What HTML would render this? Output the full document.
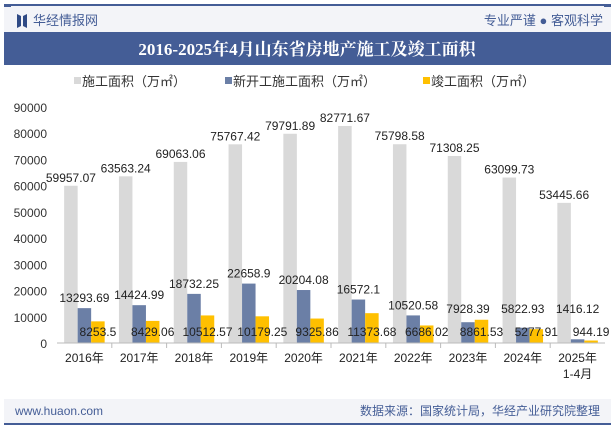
<!DOCTYPE html>
<html><head><meta charset="utf-8"><style>
body{margin:0;width:615px;height:427px;overflow:hidden;background:#fff;font-family:"Liberation Sans","Noto Sans CJK SC",sans-serif;}
</style></head><body>
<svg width="615" height="427" xmlns="http://www.w3.org/2000/svg">
<rect x="4" y="5" width="607" height="32" fill="#f3f4f8"/>
<line x1="4" y1="5" x2="611" y2="5" stroke="#445d96" stroke-width="2"/>
<rect x="4" y="4" width="7" height="3" fill="#445d96"/><rect x="604" y="4" width="7" height="3" fill="#445d96"/>
<path d="M17 14 L21 16 L21 26 L17 28 Z M27 14 L23 16 L23 26 L27 28 Z" fill="#2f4a85"/>
<text x="33" y="25" font-size="13" fill="#445d96">华经情报网</text>
<text x="603" y="25" font-size="13" fill="#445d96" text-anchor="end">专业严谨 ● 客观科学</text>
<rect x="4" y="32" width="607" height="33" fill="#445d96"/>
<text x="307" y="55" font-size="17" font-weight="bold" fill="#fff" text-anchor="middle" font-family="'Liberation Serif','Noto Serif CJK SC',serif">2016-2025年4月山东省房地产施工及竣工面积</text>
<g font-size="13" fill="#333">
<rect x="74" y="77" width="7" height="7" fill="#d9d9d9"/><text x="82" y="86">施工面积（万㎡）</text>
<rect x="225" y="77" width="7" height="7" fill="#6b7fa6"/><text x="233" y="86">新开工施工面积（万㎡）</text>
<rect x="423" y="77" width="7" height="7" fill="#ffc000"/><text x="431" y="86">竣工面积（万㎡）</text>
</g>
<g id="yaxis"></g>
<g id="bars"></g>
<g id="labels"></g>
<line x1="57" y1="343" x2="605" y2="343" stroke="#bbb"/>
<g id="xaxis"></g>
<rect x="4" y="399" width="607" height="25" fill="#f3f4f8"/>
<line x1="4" y1="424" x2="611" y2="424" stroke="#445d96" stroke-width="2"/>
<text x="15" y="415" font-size="12" fill="#445d96">www.huaon.com</text>
<text x="600" y="415" font-size="12" fill="#445d96" text-anchor="end">数据来源：国家统计局，华经产业研究院整理</text>
</svg>
<script>
const categories=["2016年","2017年","2018年","2019年","2020年","2021年","2022年","2023年","2024年","2025年"];
const construction=[59957.07,63563.24,69063.06,75767.42,79791.89,82771.67,75798.58,71308.25,63099.73,53445.66];
const newStart=[13293.69,14424.99,18732.25,22658.9,20204.08,16572.1,10520.58,7928.39,5822.93,1416.12];
const completed=[8253.5,8429.06,10512.57,10179.25,9325.86,11373.68,6686.02,8861.53,5277.91,944.19];
const constructionLabels=["59957.07","63563.24","69063.06","75767.42","79791.89","82771.67","75798.58","71308.25","63099.73","53445.66"];
const newLabels=["13293.69","14424.99","18732.25","22658.9","20204.08","16572.1","10520.58","7928.39","5822.93","1416.12"];
const completedLabels=["8253.5","8429.06","10512.57","10179.25","9325.86","11373.68","6686.02","8861.53","5277.91","944.19"];
const yTicks=[0,10000,20000,30000,40000,50000,60000,70000,80000,90000];
const NS="http://www.w3.org/2000/svg";
const x0=57,x1=605,y0=343,yTop=107,ymax=90000;
const y=v=>y0-(y0-yTop)*v/ymax;
const band=(x1-x0)/categories.length;
const cx=i=>x0+band*(i+0.5);
function mk(tag,attrs,parent){const e=document.createElementNS(NS,tag);for(const k in attrs)e.setAttribute(k,attrs[k]);document.getElementById(parent).appendChild(e);return e;}
yTicks.forEach(t=>{const e=mk("text",{x:47,y:y(t)+5,"font-size":12,fill:"#333","text-anchor":"end"},"yaxis");e.textContent=t;

});
const bw=13.5;
const series=[[construction,"#d9d9d9",-1.5,constructionLabels],[newStart,"#6b7fa6",-0.5,newLabels],[completed,"#ffc000",0.5,completedLabels]];
categories.forEach((c,i)=>{
 series.forEach((s,k)=>{const v=s[0][i];const bx=cx(i)+s[2]*bw;
  const r=mk("rect",{x:bx,y:y(v),width:bw,height:y0-y(v),fill:s[1]},"bars");
  
  
  let ly=y(v)-4;
  if(k==1) ly=Math.min(y(v)-6,313);
  if(k==2) ly=336;
  const t=mk("text",{x:bx+bw/2,y:ly,"font-size":12,fill:"#222","text-anchor":"middle"},"labels");
  t.textContent=s[3][i];
  
  
 });
 const t=mk("text",{x:cx(i),y:362,"font-size":12,fill:"#222","text-anchor":"middle"},"xaxis");t.textContent=c;
 
 
 if(i<categories.length-1){mk("line",{x1:x0+band*(i+1),y1:343,x2:x0+band*(i+1),y2:348,stroke:"#bbb"},"xaxis");}
});
const t2=mk("text",{x:cx(9),y:378,"font-size":12,fill:"#222","text-anchor":"middle"},"xaxis");t2.textContent="1-4月";


</script>
</body></html>
